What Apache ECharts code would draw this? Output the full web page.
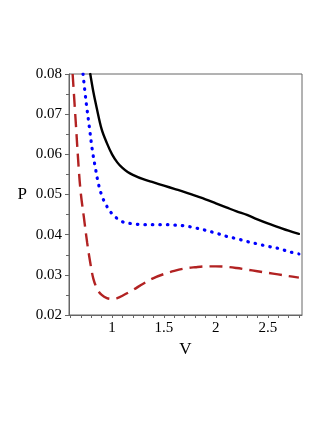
<!DOCTYPE html>
<html>
<head>
<meta charset="utf-8">
<script src="https://cdn.jsdelivr.net/npm/echarts@6/dist/echarts.min.js"></script>
<style>
  html, body { margin: 0; padding: 0; background: #fff; }
  #chart { width: 327px; height: 423px; }
</style>
</head>
<body>
<div id="chart"></div>
<script>
// [V, P]
var blackCurve = [
  [0.79, 0.080], [0.82, 0.0755], [0.85, 0.0718], [0.90, 0.0662], [0.95, 0.0628],
  [1.00, 0.0600], [1.05, 0.0580], [1.10, 0.0566], [1.15, 0.0556], [1.20, 0.0549],
  [1.30, 0.0538], [1.40, 0.0530], [1.50, 0.0522], [1.60, 0.0514], [1.70, 0.0506],
  [1.80, 0.0497], [1.90, 0.0488], [2.00, 0.0478], [2.10, 0.0468], [2.20, 0.0458],
  [2.30, 0.0449], [2.40, 0.0438], [2.50, 0.0428], [2.60, 0.0419], [2.70, 0.0410],
  [2.80, 0.0402]
];
var blueCurve = [
  [0.72, 0.080], [0.75, 0.073], [0.78, 0.067], [0.81, 0.061], [0.84, 0.0565],
  [0.87, 0.0525], [0.90, 0.0498], [0.93, 0.0480], [0.97, 0.0462], [1.00, 0.0452],
  [1.05, 0.0440], [1.10, 0.0432], [1.20, 0.0427], [1.30, 0.0425], [1.40, 0.0425],
  [1.50, 0.0425], [1.60, 0.0424], [1.70, 0.0422], [1.80, 0.0417], [1.90, 0.0411],
  [2.00, 0.0404], [2.10, 0.0396], [2.20, 0.0390], [2.30, 0.0383], [2.40, 0.0377],
  [2.50, 0.0371], [2.60, 0.0366], [2.70, 0.0358], [2.80, 0.0352]
];
var redCurve = [
  [0.62, 0.080], [0.65, 0.068], [0.68, 0.056], [0.70, 0.050], [0.73, 0.044],
  [0.76, 0.038], [0.79, 0.033], [0.82, 0.029], [0.86, 0.0263], [0.90, 0.0250],
  [0.95, 0.0242], [1.00, 0.0240], [1.05, 0.0242], [1.10, 0.0248], [1.20, 0.0262],
  [1.30, 0.0278], [1.40, 0.0292], [1.50, 0.0302], [1.60, 0.0310], [1.70, 0.0316],
  [1.80, 0.0319], [1.90, 0.0321], [2.00, 0.0321], [2.10, 0.0320], [2.20, 0.0317],
  [2.30, 0.0313], [2.40, 0.0309], [2.50, 0.0305], [2.60, 0.0301], [2.70, 0.0297],
  [2.80, 0.0293]
];
var xLabels = [1, 1.5, 2, 2.5];
var xTicks = [0.6, 0.7, 0.8, 0.9, 1, 1.1, 1.2, 1.3, 1.4, 1.5, 1.6, 1.7, 1.8, 1.9,
  2, 2.1, 2.2, 2.3, 2.4, 2.5, 2.6, 2.7, 2.8];

var font = '"Liberation Serif", "DejaVu Serif", serif';
var chart = echarts.init(document.getElementById('chart'));

function curve(data, color, type, width, cap) {
  return {
    type: 'line',
    data: data,
    showSymbol: false,
    smooth: 0.35,
    lineStyle: { color: color, width: width, type: type, cap: cap },
    clip: true,
    z: 3
  };
}

chart.setOption({
  animation: false,
  backgroundColor: '#fff',
  grid: {
    left: 69, right: 25, top: 74, bottom: 108,
    show: true, borderColor: '#666', borderWidth: 1
  },
  xAxis: {
    type: 'value',
    min: 0.585, max: 2.83,
    name: 'V',
    nameLocation: 'middle',
    nameGap: 25,
    nameTextStyle: { fontFamily: font, fontSize: 17, color: '#000' },
    axisLine: { lineStyle: { color: '#666', width: 1 } },
    axisTick: { show: true, customValues: xTicks, length: 3, lineStyle: { color: '#666' } },
    axisLabel: { customValues: xLabels, fontFamily: font, fontSize: 15, color: '#000', margin: 6 },
    splitLine: { show: false }
  },
  yAxis: {
    type: 'value',
    min: 0.02, max: 0.08, interval: 0.01,
    name: 'P',
    nameLocation: 'middle',
    nameRotate: 0,
    nameGap: 42,
    nameTextStyle: { fontFamily: font, fontSize: 17, color: '#000' },
    axisLine: { show: true, lineStyle: { color: '#666', width: 1 } },
    axisTick: { show: true, length: 4, lineStyle: { color: '#666' } },
    minorTick: { show: true, splitNumber: 2, length: 3, lineStyle: { color: '#666' } },
    axisLabel: {
      fontFamily: font, fontSize: 15, color: '#000', margin: 7,
      formatter: function (v) { return v.toFixed(2); }
    },
    splitLine: { show: false }
  },
  series: [
    curve(blackCurve, '#000000', 'solid', 2.4, 'round'),
    curve(blueCurve, '#0000ff', [0.5, 7], 3.2, 'round'),
    curve(redCurve, '#b22222', [13, 7], 2.4, 'butt')
  ]
});
</script>
</body>
</html>
